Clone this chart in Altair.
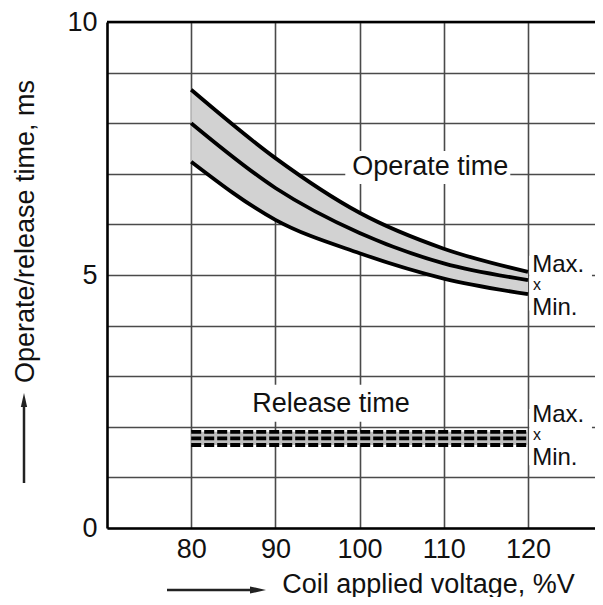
import altair as alt
import pandas as pd

# ---- data ----
volt = [80, 90, 100, 110, 120]
op_max = [8.66, 7.31, 6.23, 5.52, 5.06]
op_mean = [8.00, 6.72, 5.83, 5.23, 4.90]
op_min = [7.24, 6.09, 5.43, 4.93, 4.62]

rel_volt = [80, 120]
rel_max = [1.90, 1.90]
rel_mean = [1.77, 1.77]
rel_min = [1.64, 1.64]

x_ticks = [80, 90, 100, 110, 120]
y_grid = [0, 1, 2, 3, 4, 5, 6, 7, 8, 9, 10]

title_text = ["Operate time", "Release time"]
title_x = [108.4, 96.6]
title_y = [7.13, 2.45]

mark_text = ["Max.", "x", "Min.", "Max.", "x", "Min."]
mark_x = [120.5, 120.6, 120.5, 120.5, 120.6, 120.5]
mark_y = [5.20, 4.80, 4.34, 2.24, 1.83, 1.39]
mark_size = [24, 16, 24, 24, 16, 24]

box_x1 = [98.3, 87.0, 120.15, 120.15]
box_x2 = [117.9, 106.6, 127.6, 127.6]
box_y1 = [6.80, 2.10, 4.30, 1.24]
box_y2 = [7.45, 2.83, 5.38, 2.35]

FONT = "Liberation Sans"
INK = "#111111"

# ---- tables ----
op_band = pd.DataFrame({"v": volt, "hi": op_max, "lo": op_min})
op_lines = pd.DataFrame({
    "v": volt * 3,
    "t": op_max + op_mean + op_min,
    "s": ["max"] * 5 + ["mean"] * 5 + ["min"] * 5,
})
rel_band = pd.DataFrame({"v": rel_volt, "hi": rel_max, "lo": rel_min})
rel_lines = pd.DataFrame({
    "v": rel_volt * 3,
    "t": rel_max + rel_mean + rel_min,
    "s": ["max"] * 2 + ["mean"] * 2 + ["min"] * 2,
})
titles = pd.DataFrame({"txt": title_text, "x": title_x, "y": title_y})
marks = pd.DataFrame({"txt": mark_text, "x": mark_x, "y": mark_y, "size": mark_size})
boxes = pd.DataFrame({"x1": box_x1, "x2": box_x2, "y1": box_y1, "y2": box_y2})

xs = alt.Scale(domain=[70, 127.96], nice=False, zero=False)
ys = alt.Scale(domain=[0, 10], nice=False, zero=False)

x_axis = alt.Axis(values=x_ticks, title="Coil applied voltage, %V",
                  titleX=321, titleY=64, titleBaseline="alphabetic",
                  titleAlign="center", labelPadding=8)
y_axis = alt.Axis(values=y_grid, title="Operate/release time, ms",
                  labelExpr="datum.value % 5 == 0 ? datum.label : ''",
                  titleX=-74, titleY=209, titleBaseline="alphabetic",
                  titleAlign="center", titleAngle=-90, labelPadding=10)

band = alt.Chart(op_band).mark_area(color="#d2d2d2", interpolate="monotone").encode(
    x=alt.X("v:Q", scale=xs, axis=x_axis),
    y=alt.Y("hi:Q", scale=ys, axis=y_axis), y2="lo:Q")

lines = alt.Chart(op_lines).mark_line(color="black", strokeWidth=3.8,
                                      interpolate="monotone").encode(
    x=alt.X("v:Q", scale=xs), y=alt.Y("t:Q", scale=ys), detail="s:N")

rband = alt.Chart(rel_band).mark_area(color="#bdbdbd").encode(
    x=alt.X("v:Q", scale=xs), y=alt.Y("hi:Q", scale=ys), y2="lo:Q")

rlines = alt.Chart(rel_lines).mark_line(color="black", strokeWidth=3.8,
                                        strokeDash=[10, 3]).encode(
    x=alt.X("v:Q", scale=xs), y=alt.Y("t:Q", scale=ys), detail="s:N")

top_rule = alt.Chart(pd.DataFrame({"y": [10]})).mark_rule(
    color="black", strokeWidth=2.5).encode(y=alt.Y("y:Q", scale=ys))

white = alt.Chart(boxes).mark_rect(color="white").encode(
    x=alt.X("x1:Q", scale=xs), x2="x2:Q",
    y=alt.Y("y1:Q", scale=ys), y2="y2:Q")

title_marks = alt.Chart(titles).mark_text(font=FONT, color=INK, fontSize=27,
                                          baseline="middle", align="center").encode(
    x=alt.X("x:Q", scale=xs), y=alt.Y("y:Q", scale=ys), text="txt:N")

mm_marks = alt.Chart(marks).mark_text(font=FONT, color=INK,
                                      baseline="middle", align="left").encode(
    x=alt.X("x:Q", scale=xs), y=alt.Y("y:Q", scale=ys), text="txt:N",
    size=alt.Size("size:Q", scale=None, legend=None))

one = alt.Data(values=[{"k": 1}])
xarrow = alt.Chart(one).mark_rule(color="#222", strokeWidth=2.5).encode(
    x=alt.value(60), x2=alt.value(146), y=alt.value(568))
xhead = alt.Chart(one).mark_point(shape="M-1,-0.45L1,0L-1,0.45Z", filled=True,
                                  color="#222", size=256, opacity=1).encode(
    x=alt.value(151), y=alt.value(568))
yarrow = alt.Chart(one).mark_rule(color="#222", strokeWidth=2.5).encode(
    x=alt.value(-83), y=alt.value(461), y2=alt.value(382))
yhead = alt.Chart(one).mark_point(shape="M-0.45,1L0,-1L0.45,1Z", filled=True,
                                  color="#222", size=196, opacity=1).encode(
    x=alt.value(-83), y=alt.value(378))

chart = alt.layer(band, lines, rband, rlines, top_rule, white, title_marks, mm_marks,
                  xarrow, xhead, yarrow, yhead).properties(
    width=488, height=506,
    autosize=alt.AutoSizeParams(type="none"),
    padding={"left": 99, "top": 14, "right": 0, "bottom": 69},
).configure_view(stroke=None).configure_axis(
    gridColor="#4a4a4a", gridWidth=1.6, gridOpacity=1,
    domainColor="black", domainWidth=2.6, ticks=False,
    labelFont=FONT, labelFontSize=27, labelColor=INK,
    titleFont=FONT, titleFontSize=27, titleFontWeight="normal", titleColor=INK,
)

chart.save("out.html", embed_options={"renderer": "svg", "actions": False})
